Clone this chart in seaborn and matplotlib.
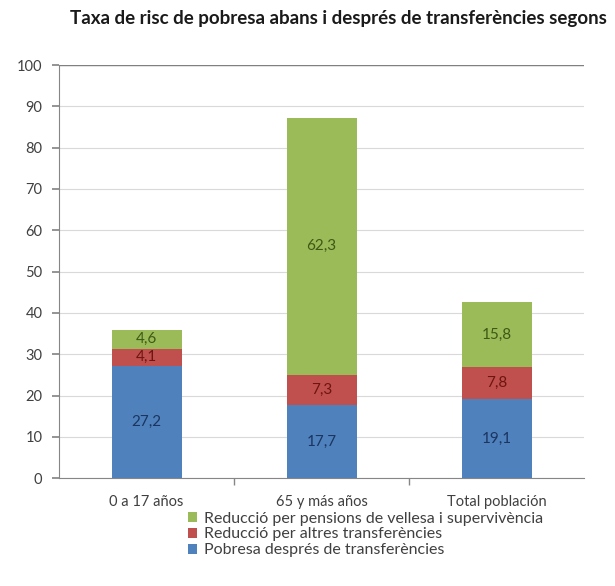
import matplotlib
matplotlib.use("Agg")
import matplotlib.pyplot as plt
from matplotlib.patches import Patch
import numpy as np
import pandas as pd
import seaborn as sns

categories = ["0 a 17 años", "65 y más años", "Total población"]
pobresa = [27.2, 17.7, 19.1]
altres = [4.1, 7.3, 7.8]
pensions = [4.6, 62.3, 15.8]

series_names = [
    "Reducció per pensions de vellesa i supervivència",
    "Reducció per altres transferències",
    "Pobresa després de transferències",
]
colors = ["#9BBB59", "#C0504D", "#4F81BD"]
text_colors = ["#3d5a14", "#6e1512", "#1b3560"]

sns.set_theme(style="white")
plt.rcParams["font.family"] = ["Lato", "DejaVu Sans"]

fig = plt.figure(figsize=(6.15, 5.86), dpi=100)
ax = fig.add_axes([0.096, 0.184, 0.854, 0.705])

p = np.array(pobresa)
a = np.array(altres)
g = np.array(pensions)
df = pd.DataFrame({"cat": categories, "blue": p, "red": p + a, "green": p + a + g})

# stacked by overlaying cumulative totals
for col, c in zip(["green", "red", "blue"], colors):
    sns.barplot(data=df, x="cat", y=col, color=c, width=0.4, ax=ax,
                saturation=1, linewidth=0, zorder=3)

# segment labels
for i in range(len(categories)):
    segs = [(p[i] / 2, p[i], text_colors[2]),
            (p[i] + a[i] / 2, a[i], text_colors[1]),
            (p[i] + a[i] + g[i] / 2, g[i], text_colors[0])]
    for y, v, tc in segs:
        ax.text(i, y, f"{v:.1f}".replace(".", ","), ha="center", va="center",
                fontsize=11, color=tc, zorder=4)

ax.set_ylim(0, 100)
ax.set_xlim(-0.5, 2.5)
ax.set_yticks(range(0, 101, 10))
ax.yaxis.grid(True, color="#d9d9d9", linewidth=0.8, zorder=0)
ax.set_xlabel("")
ax.set_ylabel("")
ax.tick_params(axis="y", left=True, length=5, color="#868686", labelsize=10.5,
               labelcolor="#404040", pad=7)
ax.tick_params(axis="x", bottom=False, labelsize=10.5, labelcolor="#404040", pad=6)
# x ticks between categories
ax.set_xticks([0.5, 1.5], minor=True)
ax.tick_params(axis="x", which="minor", bottom=True, length=5, color="#868686")
for s in ["top", "right"]:
    ax.spines[s].set_visible(False)
for s in ["left", "bottom"]:
    ax.spines[s].set_color("#868686")
    ax.spines[s].set_linewidth(0.8)
ax.axhline(100, color="#808080", linewidth=1.0, zorder=1)

fig.text(0.55, 0.968, "Taxa de risc de pobresa abans i després de transferències segons",
         ha="center", va="center", fontsize=13.5, fontweight="bold", color="#1a1a1a")

handles = [Patch(facecolor=c, edgecolor="none") for c in colors]
fig.legend(handles, series_names, loc="upper left", bbox_to_anchor=(0.305, 0.127),
           frameon=False, fontsize=11.5, handlelength=0.6, handleheight=0.6,
           handletextpad=0.4, labelspacing=0.12, borderaxespad=0, borderpad=0,
           labelcolor="#404040")

fig.savefig("out.png", dpi=100)
